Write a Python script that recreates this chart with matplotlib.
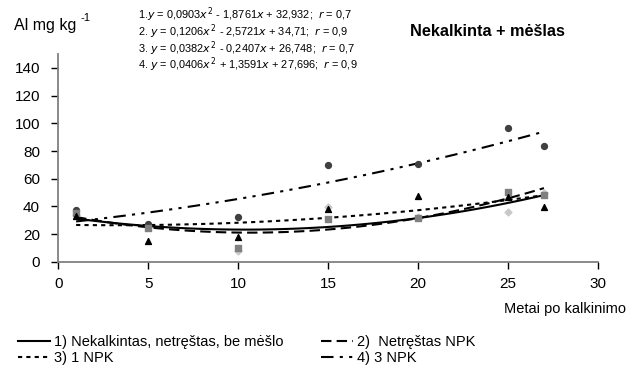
import numpy as np
import matplotlib
matplotlib.use('Agg')
import matplotlib.pyplot as plt

plt.rcParams['font.family'] = ['Liberation Sans', 'DejaVu Sans']

# measured years after liming
years = [1, 5, 10, 15, 20, 25, 27]

# point values (one list per marker type)
circles = [37, 27.6, 32.2, 69.6, 70.6, 96.5, 83.5]
squares = [35, 24, 9.6, 31.2, 31.7, 50.4, 48]
diamonds = [34, 25, 8, 39.5, 32, 36, 50]
triangles = [33, 14.9, 17.6, 38, 47.3, 46.6, 39.6]

# trend equations printed on the chart (a, b, c for a*x^2 + b*x + c)
coef1 = [0.0903, -1.8761, 32.932]
coef2 = [0.1206, -2.5721, 34.71]
coef3 = [0.0382, -0.2407, 26.748]
coef4 = [0.0406, 1.3591, 27.696]

labels = ['1) Nekalkintas, netręštas, be mėšlo', '2)  Netręštas NPK', '3) 1 NPK', '4) 3 NPK']
eq_text = ['1.$y$ = 0,0903$x$$^{\\,2}$ - 1,8761$x$ + 32,932;  $r$ = 0,7',
           '2. $y$ = 0,1206$x$$^{\\,2}$ - 2,5721$x$ + 34,71;  $r$ = 0,9',
           '3. $y$ = 0,0382$x$$^{\\,2}$ - 0,2407$x$ + 26,748;  $r$ = 0,7',
           '4. $y$ = 0,0406$x$$^{\\,2}$ + 1,3591$x$ + 27,696;  $r$ = 0,9']

fig = plt.figure(figsize=(6.32, 3.76), dpi=100)
ax = fig.add_axes([0.092, 0.304, 0.854, 0.552])

ax.scatter(years, circles, marker='o', s=18, color='#404040', zorder=3)
ax.scatter(years, squares, marker='s', s=18, color='#808080', zorder=3)
ax.scatter(years, diamonds, marker='D', s=12, color='#c8c8c8', zorder=2)
ax.scatter(years, triangles, marker='^', s=18, color='black', zorder=3)

xs = np.linspace(years[0], years[-1], 100)
styles = ['-', (0, (5, 2.5)), (0, (2, 2)), (0, (6, 3, 1.5, 3, 1.5, 3))]
handles = []
for coef, ls, lab in zip([coef1, coef2, coef3, coef4], styles, labels):
    h, = ax.plot(xs, np.polyval(coef, xs), color='black', lw=1.5, linestyle=ls, label=lab)
    handles.append(h)

ax.set_xlim(0, 30)
ax.set_ylim(0, 150)
ax.set_xticks(range(0, 31, 5))
ax.set_yticks(range(0, 141, 20))
for s in ['top', 'right']:
    ax.spines[s].set_visible(False)
for s in ['left', 'bottom']:
    ax.spines[s].set_color('#808080')
    ax.spines[s].set_linewidth(1.3)
ax.tick_params(colors='black', labelsize=11, length=5, width=1.0, pad=8)
ax.tick_params(axis='x', pad=6)
for t in ax.get_xticklines() + ax.get_yticklines():
    t.set_color('#808080')

fig.text(0.022, 0.933, 'Al mg kg', fontsize=11.5, va='center')
fig.text(0.128, 0.952, '-1', fontsize=8, va='center')
# equations as one block of text
fig.text(0.218, 0.985, '\n'.join(eq_text), fontsize=7.9, va='top', linespacing=0.86)
fig.text(0.648, 0.915, 'Nekalkinta + mėšlas', fontsize=11.7, fontweight='bold', va='center')
fig.text(0.99, 0.178, 'Metai po kalkinimo', fontsize=10.5, ha='right', va='center')

order = [0, 2, 1, 3]
fig.legend([handles[i] for i in order], [labels[i] for i in order], ncol=2,
           loc='lower left', bbox_to_anchor=(0.008, -0.005), frameon=False,
           handlelength=2.2, handletextpad=0.25, columnspacing=2.6,
           labelspacing=0.1, prop={'family': ['Liberation Sans Narrow', 'Liberation Sans'], 'size': 10.5})

fig.savefig('out.png', dpi=100)
